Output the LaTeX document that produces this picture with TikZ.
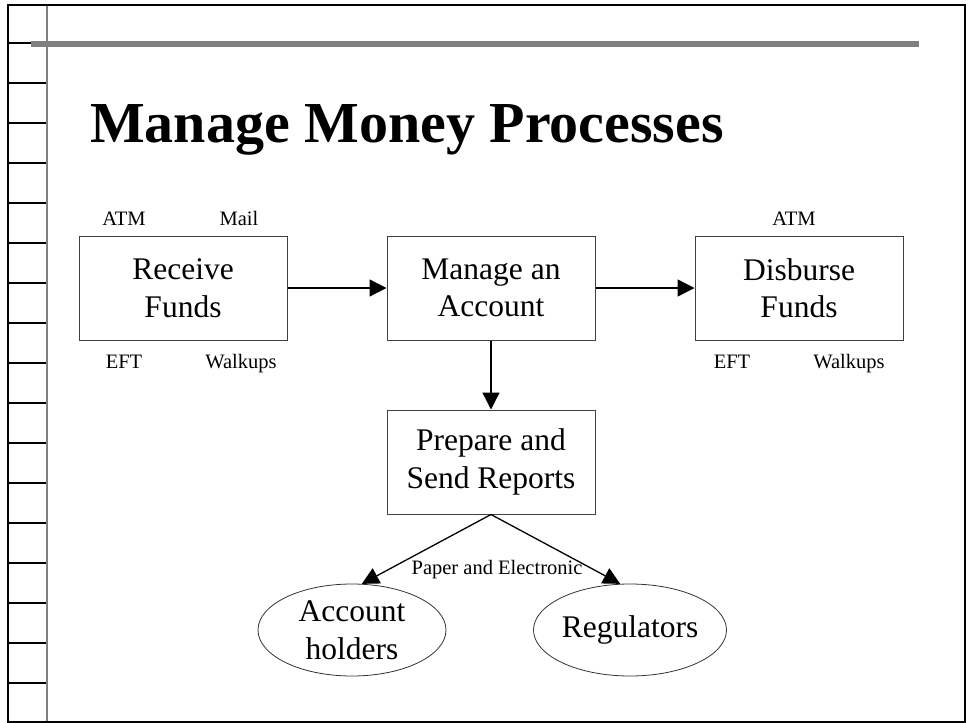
\documentclass[tikz,border=0pt]{standalone}
\usepackage{fontspec}
\setmainfont{Liberation Serif}
\usetikzlibrary{arrows.meta,shapes.geometric}

\tikzset{
  process/.style={draw=black!75,line width=1pt,minimum width=208pt,minimum height=104pt,
    inner sep=0pt,align=center,font=\fontsize{31.5}{37.5}\selectfont},
  party/.style={draw=black!80,ellipse,line width=0.8pt,minimum width=188pt,minimum height=92pt,
    inner sep=0pt,align=center,font=\fontsize{31.5}{37.5}\selectfont},
  channel/.style={anchor=base,inner sep=0pt,font=\fontsize{20.5}{24}\selectfont},
  flow/.style={line width=1.3pt,-{Triangle[length=17pt,width=17pt]}},
}

\begin{document}
\begin{tikzpicture}[x=1pt,y=-1pt]
  \useasboundingbox (0,0) rectangle (967,723);

  % slide frame
  \foreach \k in {0,...,16}
    \draw[line width=1.2pt] (8,43+40*\k) -- (47,43+40*\k);
  \draw[gray,line width=1.6pt] (47,5) -- (47,722);
  \draw[line width=2pt] (8,5) rectangle (965,722);
  \draw[gray,line width=6pt] (31,44) -- (919,44);

  \node[anchor=base west,inner sep=0pt,font=\fontsize{58}{64}\selectfont\bfseries] (title) at (90,142) {Manage Money Processes};

  \node[process] (receive) at (183,288) {Receive\\Funds};
  \node[process] (manage) at (491,288) {Manage an\\Account};
  \node[process] (disburse) at (799,288) {Disburse\\Funds};
  \node[process] (report) at (491,462) {Prepare and\\Send Reports};

  \node[party] (holders) at (352,630) {Account\\holders};
  \node[party] (regulators) at (630,630) {Regulators};

  \draw[flow] (receive) -- (manage);
  \draw[flow] (manage) -- (disburse);
  \draw[flow] (manage) -- (report);
  \draw[flow] (report.south) -- (holders.78);
  \draw[flow] (report.south) -- (regulators.102);

  \node[channel] (atmin) at (124,225) {ATM};
  \node[channel] (mail) at (239,225) {Mail};
  \node[channel] (eftin) at (124,368) {EFT};
  \node[channel] (walkin) at (241,368) {Walkups};

  \node[channel] (atmout) at (794,225) {ATM};
  \node[channel] (eftout) at (732,368) {EFT};
  \node[channel] (walkout) at (849,368) {Walkups};

  \node[channel] (media) at (497,574) {Paper and Electronic};

\end{tikzpicture}
\end{document}
